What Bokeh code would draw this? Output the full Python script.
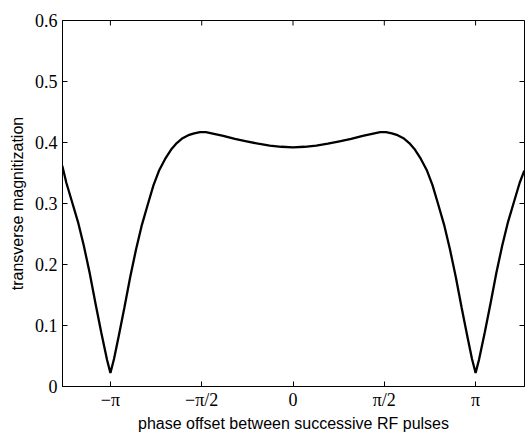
import math
from bokeh.plotting import figure
from bokeh.models import FixedTicker, Range1d
from bokeh.embed import file_html
from bokeh.resources import INLINE

PI = math.pi

# phase offset (rad) and transverse magnetization
phase = [-3.97, -3.9, -3.8, -3.7, -3.6, -3.5, -3.4, -3.3, -3.2, -3.1416,
         -3.08, -3.0, -2.9, -2.8, -2.7, -2.6, -2.5, -2.4, -2.3, -2.2,
         -2.1, -2.0, -1.9, -1.8, -1.7, -1.6, -1.5, -1.4, -1.3, -1.2,
         -1.0, -0.8, -0.6, -0.4, -0.2, 0.0, 0.2, 0.4, 0.6, 0.8,
         1.0, 1.2, 1.3, 1.4, 1.5, 1.6, 1.7, 1.8, 1.9, 2.0,
         2.1, 2.2, 2.3, 2.4, 2.5, 2.6, 2.7, 2.8, 2.9, 3.0,
         3.08, 3.1416, 3.2, 3.3, 3.4, 3.5, 3.6, 3.7, 3.8, 3.9, 3.98]
magnitization = [0.362, 0.334, 0.302, 0.270, 0.231, 0.187, 0.137, 0.089, 0.044, 0.022,
                 0.045, 0.082, 0.130, 0.180, 0.225, 0.265, 0.298, 0.330, 0.355, 0.373,
                 0.388, 0.399, 0.407, 0.412, 0.415, 0.417, 0.417, 0.415, 0.413, 0.411,
                 0.406, 0.402, 0.398, 0.395, 0.393, 0.392, 0.393, 0.395, 0.398, 0.402,
                 0.406, 0.411, 0.413, 0.415, 0.417, 0.417, 0.415, 0.412, 0.407, 0.399,
                 0.388, 0.373, 0.355, 0.330, 0.298, 0.265, 0.225, 0.180, 0.130, 0.082,
                 0.045, 0.022, 0.044, 0.089, 0.137, 0.187, 0.231, 0.270, 0.302, 0.334, 0.354]

x_start, x_end = -3.966, 3.983
y_start, y_end = 0.0, 0.6
x_tick_values = [-PI, -PI / 2, 0, PI / 2, PI]
x_tick_labels = ["\u2212\u03c0", "\u2212\u03c0/2", "0", "\u03c0/2", "\u03c0"]
y_tick_values = [0, 0.1, 0.2, 0.3, 0.4, 0.5, 0.6]
y_tick_labels = ["0", "0.1", "0.2", "0.3", "0.4", "0.5", "0.6"]

x_label = "phase offset between successive RF pulses"
y_label = "transverse magnitization"

p = figure(width=525, height=434, output_backend="svg", toolbar_location=None,
           x_range=Range1d(x_start, x_end), y_range=Range1d(y_start, y_end),
           min_border_left=62, min_border_right=1, min_border_top=20, min_border_bottom=40)
p.background_fill_color = "white"
p.border_fill_color = "white"
p.outline_line_color = "black"
p.outline_line_width = 1
p.xgrid.visible = False
p.ygrid.visible = False

p.line(phase, magnitization, line_color="black", line_width=2.3)

# inward ticks on the top and right edges of the box (clipped to the frame)
p.scatter(x=x_tick_values, y=[y_end] * len(x_tick_values), marker="dash", size=10,
          angle=PI / 2, line_color="black", line_width=1)
p.scatter(x=[x_end] * len(y_tick_values), y=y_tick_values, marker="dash", size=10,
          angle=0, line_color="black", line_width=1)

tick_font = "Liberation Serif"
label_font = "Liberation Sans"

xa = p.xaxis[0]
xa.ticker = FixedTicker(ticks=x_tick_values)
xa.major_label_overrides = dict(zip(x_tick_values, x_tick_labels))
xa.axis_label = x_label
ya = p.yaxis[0]
ya.ticker = FixedTicker(ticks=y_tick_values)
ya.major_label_overrides = dict(zip(y_tick_values, y_tick_labels))
ya.axis_label = y_label

for ax in (xa, ya):
    ax.major_tick_in = 5
    ax.major_tick_out = 0
    ax.minor_tick_line_color = None
    ax.axis_line_color = "black"
    ax.major_tick_line_color = "black"
    ax.major_label_text_font = tick_font
    ax.major_label_text_font_size = "18px"
    ax.major_label_text_color = "black"
    ax.axis_label_text_font = label_font
    ax.axis_label_text_font_size = "16px"
    ax.axis_label_text_font_style = "normal"
    ax.axis_label_text_color = "black"

xa.major_label_standoff = 3
xa.axis_label_standoff = 2
ya.major_label_standoff = 5
ya.axis_label_standoff = 6

open("out.html", "w").write(file_html(p, INLINE))
